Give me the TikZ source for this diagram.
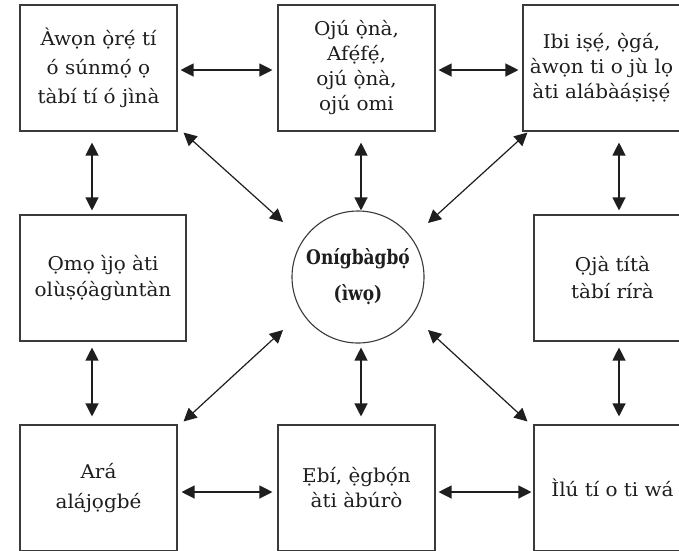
\documentclass[tikz,border=0pt]{standalone}
\usepackage{fontspec}
\setmainfont[FakeStretch=1.05]{DejaVu Serif}
\newfontfamily\cfont[FakeStretch=0.85]{DejaVu Serif}
\usetikzlibrary{arrows.meta,calc}
\definecolor{boxline}{HTML}{3A3A3A}
\definecolor{arr}{HTML}{1E1E1E}
\definecolor{txt}{HTML}{1E1E1E}
\begin{document}
\begin{tikzpicture}[x=1pt,y=-1pt,
  box/.style={draw=boxline, line width=1.1pt, minimum width=157pt, minimum height=126pt,
    align=center, inner sep=0pt, text=txt},
  fs/.style={font=\fontsize{19}{#1}\selectfont},
  conn/.style={draw=arr, line width=1.2pt,
    {Triangle[length=13pt,width=13pt]}-{Triangle[length=13pt,width=13pt]}}]
\useasboundingbox (0,0) rectangle (679,550);
\clip (0,0) rectangle (679,550);
\fill[white] (0,0) rectangle (679,550);

\node[box, fs=29] (tl) at (98.5,68) {Àwọn ọ̀rẹ́ tí\\ó súnmọ́ ọ\\tàbí tí ó jìnà};
\node[box, fs=25] (tm) at (356.5,68) {Ojú ọ̀nà,\\Afẹ́fẹ́,\\ojú ọ̀nà,\\ojú omi};
\node[box, fs=25] (tr) at (601.5,68) {Ibi iṣẹ́, ọ̀gá,\\àwọn ti o jù lọ\\àti alábàáṣiṣẹ́};
\node[box, fs=26, minimum width=166pt] (ml) at (103,278) {Ọmọ ìjọ àti\\olùṣọ́àgùntàn};
\node[draw=boxline, line width=1.1pt, circle, minimum size=132pt, inner sep=0pt, align=center,
  text=txt, font=\cfont\fontsize{20}{36}\selectfont\bfseries] (c) at (358,277) {Onígbàgbọ́\\(ìwọ)};
\node[box, fs=27] (mr) at (612.5,278) {Ọjà títà\\tàbí rírà};
\node[box, fs=30] (bl) at (98.5,488) {Ará\\alájọgbé};
\node[box, fs=25] (bm) at (356.5,488) {Ẹbí, ẹ̀gbọ́n\\àti àbúrò};
\node[box, fs=25] (br) at (612.5,488) {Ìlú tí o ti wá};

% horizontal
\draw[conn] ($(tl.east)+(3,2)$) -- ($(tm.west)+(-5,2)$);
\draw[conn] ($(tm.east)+(3,2)$) -- ($(tr.west)+(-4,2)$);
\draw[conn] ($(bl.east)+(4,4)$) -- ($(bm.west)+(-5,4)$);
\draw[conn] ($(bm.east)+(3,4)$) -- ($(br.west)+(-2,4)$);
% vertical
\draw[conn] ($(tl.south)+(-6.5,11)$) -- ($(ml.north)+(-11,-4)$);
\draw[conn] ($(ml.south)+(-11,6)$) -- ($(bl.north)+(-6.5,-8)$);
\draw[conn] ($(tm.south)+(4.5,11)$) -- ($(c.north)+(3,0)$);
\draw[conn] ($(c.south)+(3,4)$) -- ($(bm.north)+(4.5,-8)$);
\draw[conn] ($(tr.south)+(17.5,11)$) -- ($(mr.north)+(6.5,-4)$);
\draw[conn] ($(mr.south)+(6.5,6)$) -- ($(br.north)+(6.5,-8)$);
% diagonal
\draw[conn] ($(tl.south east)+(6,1)$) -- ($(c.center)+(-75,-55)$);
\draw[conn] ($(tr.south west)+(5,1)$) -- ($(c.center)+(70,-54)$);
\draw[conn] ($(c.center)+(-75,53)$) -- ($(bl.north east)+(6,-3)$);
\draw[conn] ($(c.center)+(70,53)$) -- ($(br.north west)+(-6,-3)$);
\end{tikzpicture}
\end{document}
